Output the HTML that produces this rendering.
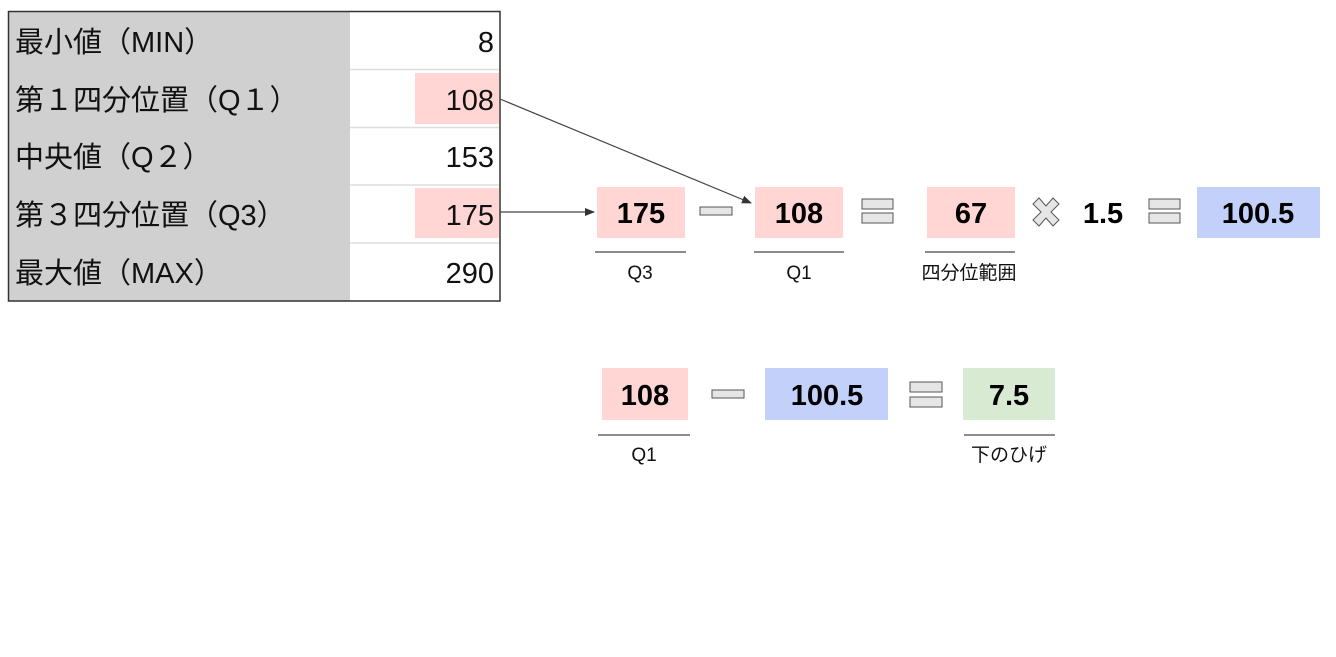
<!DOCTYPE html>
<html><head><meta charset="utf-8"><style>
html,body{margin:0;padding:0;background:#fff;width:1336px;height:657px;overflow:hidden}
svg text{font-family:"Liberation Sans","Noto Sans CJK JP",sans-serif}
</style></head><body>
<svg width="1336" height="657" viewBox="0 0 1336 657" xmlns="http://www.w3.org/2000/svg">
<defs><marker id="ah" markerWidth="10" markerHeight="8" refX="9" refY="4" orient="auto" markerUnits="userSpaceOnUse"><path d="M0,0 L10,4 L0,8 z" fill="#333"/></marker></defs>
<rect x="9" y="12" width="341" height="289" fill="#d0d0d0"/>
<rect x="350" y="12" width="150" height="289" fill="#fff"/>
<g stroke="#ddd" stroke-width="1.5">
<line x1="350" y1="69.5" x2="500" y2="69.5"/><line x1="350" y1="127.5" x2="500" y2="127.5"/>
<line x1="350" y1="185" x2="500" y2="185"/><line x1="350" y1="243" x2="500" y2="243"/></g>
<rect x="415" y="73" width="84" height="51" fill="#ffd6d4"/>
<rect x="415" y="188" width="84" height="50" fill="#ffd6d4"/>
<rect x="8.5" y="11.5" width="491.5" height="289.5" fill="none" stroke="#333" stroke-width="1.5"/>
<g font-size="29" fill="#111">
<text x="15" y="52">最小値（MIN）</text>
<text x="15" y="110">第１四分位置（Q１）</text>
<text x="15" y="167">中央値（Q２）</text>
<text x="15" y="225">第３四分位置（Q3）</text>
<text x="15" y="283">最大値（MAX）</text>
<g text-anchor="end"><text x="494" y="52">8</text><text x="494" y="110">108</text><text x="494" y="167">153</text><text x="494" y="225">175</text><text x="494" y="283">290</text></g>
</g>
<line x1="500" y1="99" x2="751" y2="203" stroke="#444" stroke-width="1.2" marker-end="url(#ah)"/>
<line x1="500" y1="212" x2="594" y2="212" stroke="#444" stroke-width="1.2" marker-end="url(#ah)"/>
<rect x="597" y="187" width="88" height="51" fill="#ffd6d4"/>
<rect x="755" y="187" width="88" height="51" fill="#ffd6d4"/>
<rect x="927" y="187" width="88" height="51" fill="#ffd6d4"/>
<rect x="1197" y="187" width="123" height="51" fill="#c3d1fa"/>
<rect x="602" y="368" width="86" height="52" fill="#ffd6d4"/>
<rect x="765" y="368" width="123" height="52" fill="#c3d1fa"/>
<rect x="963" y="368" width="92" height="52" fill="#d9ead3"/>
<g fill="#e6e6e6" stroke="#555" stroke-width="1">
<rect x="700" y="207" width="32" height="8"/>
<rect x="862" y="199" width="31" height="10"/><rect x="862" y="213" width="31" height="10"/>
<rect x="1149" y="199" width="31" height="10"/><rect x="1149" y="213" width="31" height="10"/>
<path d="M1033,204 l6,-6 l7,8 l7,-8 l6,6 l-8,8 l8,8 l-6,6 l-7,-8 l-7,8 l-6,-6 l8,-8 z"/>
<rect x="712" y="390" width="32" height="8"/>
<rect x="910" y="382" width="32" height="10"/><rect x="910" y="397" width="32" height="10"/>
</g>
<g font-size="29" font-weight="bold" text-anchor="middle" fill="#000">
<text x="641" y="223">175</text><text x="799" y="223">108</text><text x="971" y="223">67</text>
<text x="1103" y="223">1.5</text><text x="1258" y="223">100.5</text>
<text x="645" y="405">108</text><text x="827" y="405">100.5</text><text x="1009" y="405">7.5</text>
</g>
<g stroke="#666" stroke-width="1.5">
<line x1="595" y1="252" x2="686" y2="252"/><line x1="754" y1="252" x2="844" y2="252"/><line x1="925" y1="252" x2="1015" y2="252"/>
<line x1="598" y1="435" x2="690" y2="435"/><line x1="964" y1="435" x2="1055" y2="435"/>
</g>
<g font-size="19" text-anchor="middle" fill="#111">
<text x="640" y="279">Q3</text><text x="799" y="279">Q1</text><text x="969" y="279">四分位範囲</text>
<text x="644" y="461">Q1</text><text x="1009" y="461">下のひげ</text>
</g>
</svg>
</body></html>
